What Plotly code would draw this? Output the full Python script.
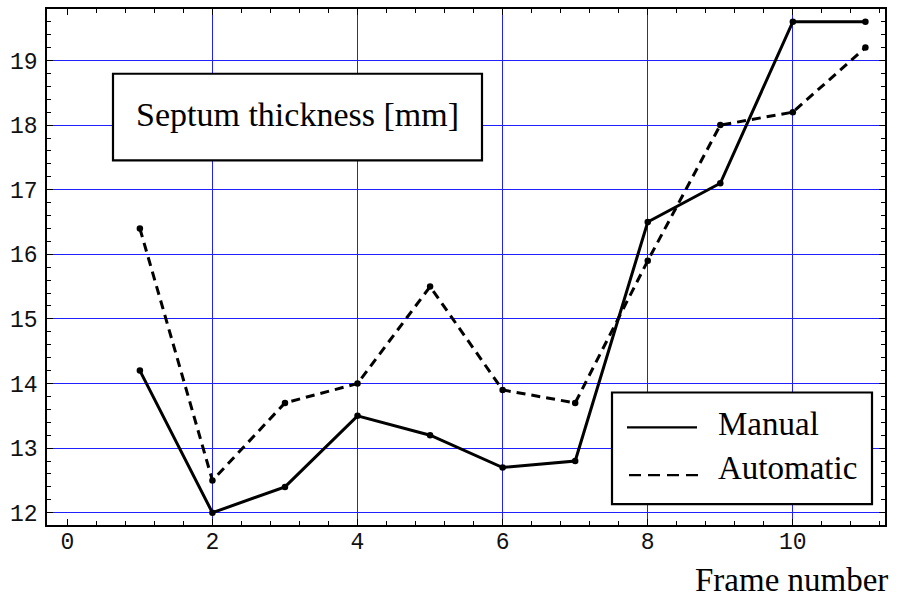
import plotly.graph_objects as go

frames = [1, 2, 3, 4, 5, 6, 7, 8, 9, 10, 11]
manual = [14.2, 12.0, 12.4, 13.5, 13.2, 12.7, 12.8, 16.5, 17.1, 19.6, 19.6]
automatic = [16.4, 12.5, 13.7, 14.0, 15.5, 13.9, 13.7, 15.9, 18.0, 18.2, 19.2]
x_ticks = [0, 2, 4, 6, 8, 10]
y_ticks = [12, 13, 14, 15, 16, 17, 18, 19]
title_text = "Septum thickness [mm]"
series_names = ["Manual", "Automatic"]
x_title = "Frame number"

W, H = 900, 603
L, R, T, B = 47, 15, 7, 78
PW, PH = W - L - R, H - T - B


def px(x):
    return (x - L) / PW


def py(y):
    return (H - B - y) / PH


SERIF = "Liberation Serif"
MONO = "Liberation Mono"

fig = go.Figure()
fig.add_trace(go.Scatter(x=frames, y=manual, mode="lines+markers", name=series_names[0],
                         line=dict(color="black", width=3),
                         marker=dict(color="black", size=6.5), showlegend=False))
fig.add_trace(go.Scatter(x=frames, y=automatic, mode="lines+markers", name=series_names[1],
                         line=dict(color="black", width=3, dash="9px,6px"),
                         marker=dict(color="black", size=6.5), showlegend=False))

axis_common = dict(showline=True, linecolor="black", linewidth=1.5, mirror="allticks",
                   ticks="inside", ticklen=6, tickwidth=1, tickcolor="black",
                   showgrid=True, gridcolor="#2020ff", gridwidth=1,
                   tickfont=dict(family=MONO, size=23, color="#111111"))

fig.update_xaxes(range=[-0.28, 11.27], tickmode="array", tickvals=x_ticks,
                 zeroline=True, zerolinecolor="rgba(0,0,0,0)", zerolinewidth=1,
                 ticklabelstandoff=-5,
                 minor=dict(ticks="inside", ticklen=4, tickcolor="black", dtick=0.4, tick0=0,
                            showgrid=False),
                 **axis_common)
fig.update_yaxes(range=[11.81, 19.797], tickmode="array", tickvals=y_ticks,
                 zeroline=False, ticklabelstandoff=3,
                 minor=dict(ticks="inside", ticklen=4, tickcolor="black", dtick=0.2, tick0=12,
                            showgrid=False),
                 **axis_common)

shapes = []
annotations = []
# title box
shapes.append(dict(type="rect", xref="paper", yref="paper", x0=px(113), x1=px(482),
                   y0=py(159), y1=py(72), line=dict(color="black", width=2.2),
                   fillcolor="white", layer="above"))
annotations.append(dict(text=title_text, xref="paper", yref="paper", x=px(297.5), y=py(113),
                        xanchor="center", yanchor="middle", showarrow=False,
                        font=dict(family=SERIF, size=34, color="black")))
# legend box
shapes.append(dict(type="rect", xref="paper", yref="paper", x0=px(612), x1=px(872),
                   y0=py(504), y1=py(392), line=dict(color="black", width=2.2),
                   fillcolor="white", layer="above"))
shapes.append(dict(type="line", xref="paper", yref="paper", x0=px(627), x1=px(697),
                   y0=py(427), y1=py(427), line=dict(color="black", width=2.2), layer="above"))
shapes.append(dict(type="line", xref="paper", yref="paper", x0=px(629), x1=px(700),
                   y0=py(475), y1=py(475), line=dict(color="black", width=2.2, dash="12px,7px"),
                   layer="above"))
annotations.append(dict(text=series_names[0], xref="paper", yref="paper", x=px(716), y=py(424),
                        xanchor="left", yanchor="middle", showarrow=False,
                        font=dict(family=SERIF, size=33, color="black")))
annotations.append(dict(text=series_names[1], xref="paper", yref="paper", x=px(716), y=py(468),
                        xanchor="left", yanchor="middle", showarrow=False,
                        font=dict(family=SERIF, size=33, color="black")))
annotations.append(dict(text=x_title, xref="paper", yref="paper", x=px(890), y=py(580),
                        xanchor="right", yanchor="middle", showarrow=False,
                        font=dict(family=SERIF, size=33, color="black")))

fig.update_layout(width=W, height=H, margin=dict(l=L, r=R, t=T, b=B, pad=0),
                  paper_bgcolor="white", plot_bgcolor="white",
                  shapes=shapes, annotations=annotations, showlegend=False)

fig.write_html("out.html")
